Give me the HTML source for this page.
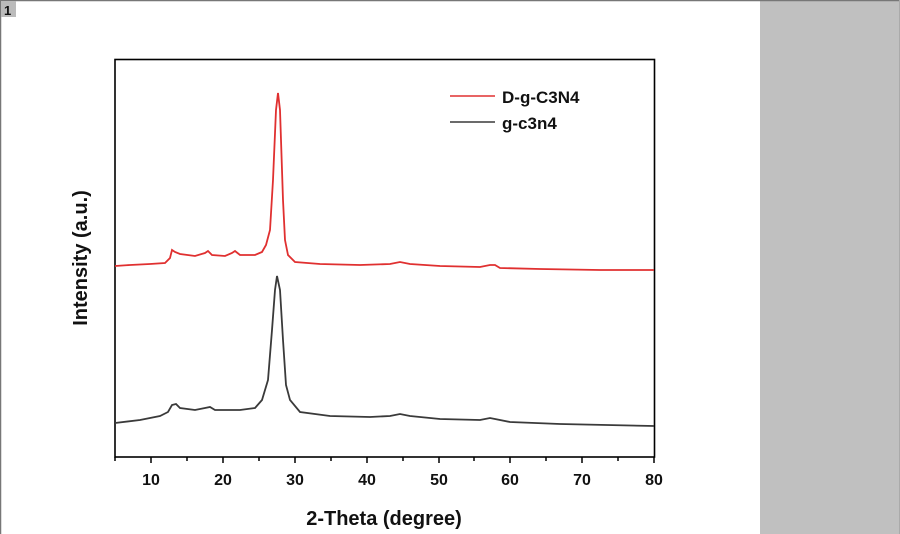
<!DOCTYPE html>
<html><head><meta charset="utf-8"><style>
body{margin:0;width:900px;height:534px;overflow:hidden;background:#fff}
svg{display:block}
text{font-family:"Liberation Sans",Arial,sans-serif;font-weight:bold;fill:#111}
</style></head><body>
<svg width="900" height="534" viewBox="0 0 900 534">
<rect x="0" y="0" width="900" height="534" fill="#fff"/>
<rect x="760" y="1" width="139" height="533" fill="#c0c0c0"/>
<line x1="0" y1="0.5" x2="900" y2="0.5" stroke="#777" stroke-width="1.5"/>
<line x1="0.5" y1="0" x2="0.5" y2="534" stroke="#777" stroke-width="1.5"/>
<line x1="899.5" y1="0" x2="899.5" y2="534" stroke="#aaa" stroke-width="1"/>
<rect x="1" y="1" width="15" height="16" fill="#bbb"/>
<text x="4" y="15" font-size="13">1</text>
<rect x="115" y="59.5" width="539.5" height="397.5" fill="none" stroke="#000" stroke-width="1.6"/>
<g stroke="#000" stroke-width="1.5">
<line x1="151" y1="457" x2="151" y2="463"/><line x1="223" y1="457" x2="223" y2="463"/>
<line x1="295" y1="457" x2="295" y2="463"/><line x1="367" y1="457" x2="367" y2="463"/>
<line x1="439" y1="457" x2="439" y2="463"/><line x1="510" y1="457" x2="510" y2="463"/>
<line x1="582" y1="457" x2="582" y2="463"/><line x1="654" y1="457" x2="654" y2="463"/>
<line x1="115" y1="457" x2="115" y2="461"/><line x1="187" y1="457" x2="187" y2="461"/>
<line x1="259" y1="457" x2="259" y2="461"/><line x1="331" y1="457" x2="331" y2="461"/>
<line x1="403" y1="457" x2="403" y2="461"/><line x1="474" y1="457" x2="474" y2="461"/>
<line x1="546" y1="457" x2="546" y2="461"/><line x1="618" y1="457" x2="618" y2="461"/>
</g>
<g font-size="16" text-anchor="middle">
<text x="151" y="485">10</text><text x="223" y="485">20</text><text x="295" y="485">30</text>
<text x="367" y="485">40</text><text x="439" y="485">50</text><text x="510" y="485">60</text>
<text x="582" y="485">70</text><text x="654" y="485">80</text>
</g>
<text x="384" y="525" font-size="20" text-anchor="middle">2-Theta (degree)</text>
<text transform="translate(87,258) rotate(-90)" font-size="20" text-anchor="middle">Intensity (a.u.)</text>
<polyline fill="none" stroke="#e03030" stroke-width="1.8" points="115,266 130,265 150,264 165,263 170,258 172,250 175,252 180,254 195,256 205,253 208,251 212,255 225,256 232,253 235,251 240,255 255,255 262,252 266,245 270,230 273,180 276,110 278,93 280,110 283,200 285,240 288,255 295,262 320,264 360,265 390,264 400,262 410,264 440,266 480,267 490,265 495,265 500,268 540,269 600,270 654,270"/>
<polyline fill="none" stroke="#3a3a3a" stroke-width="1.8" points="115,423 140,420 160,416 168,412 172,405 176,404 180,408 195,410 205,408 210,407 215,410 240,410 255,408 262,400 268,380 272,330 275,290 277,276 280,290 283,340 286,385 290,400 300,412 330,416 370,417 390,416 400,414 410,416 440,419 480,420 490,418 495,419 510,422 560,424 654,426"/>
<line x1="450" y1="96" x2="495" y2="96" stroke="#e03030" stroke-width="1.5"/>
<line x1="450" y1="122" x2="495" y2="122" stroke="#3a3a3a" stroke-width="1.5"/>
<text x="502" y="103" font-size="17">D-g-C3N4</text>
<text x="502" y="129" font-size="17">g-c3n4</text>
</svg>
</body></html>
